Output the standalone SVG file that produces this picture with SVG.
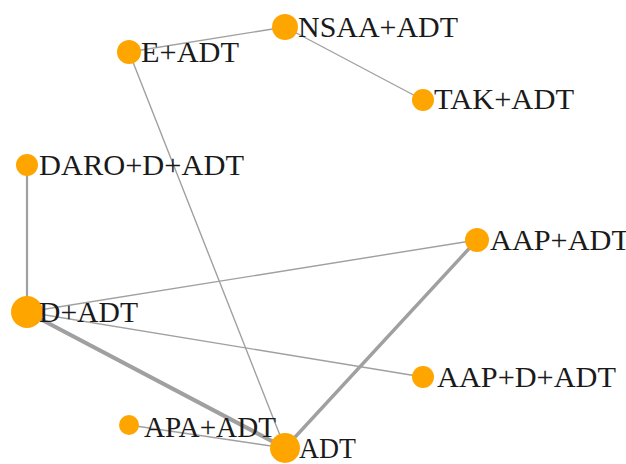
<svg xmlns="http://www.w3.org/2000/svg" width="626" height="464" viewBox="0 0 626 464">
<style>
.e{stroke:#a0a0a0;fill:none;stroke-linecap:round}
.t1{stroke-width:1.4}
.n circle{fill:#FFA500}
.n text{font-family:"Liberation Serif","Times New Roman",serif;font-size:29px;fill:#1a1a1a}
</style>
<rect width="626" height="464" fill="#ffffff"/>
<g id="connectors">
<line class="e t1" x1="129" y1="52" x2="285" y2="27"/>
<line class="e t1" x1="285" y1="27" x2="423" y2="100"/>
<line class="e t1" x1="129" y1="52" x2="285" y2="448"/>
<line class="e" stroke-width="2.2" x1="27" y1="165" x2="27" y2="312"/>
<line class="e t1" x1="27" y1="312" x2="477" y2="240"/>
<line class="e t1" x1="27" y1="312" x2="423" y2="377"/>
<line class="e" stroke-width="4.2" x1="27" y1="312" x2="285" y2="448"/>
<line class="e" stroke-width="3.4" x1="477" y1="240" x2="285" y2="448"/>
<line class="e t1" x1="129" y1="425" x2="285" y2="448"/>
</g>
<g id="node-E-ADT" class="n"><circle cx="129" cy="52" r="12"/><text x="141" y="62" textLength="98" lengthAdjust="spacingAndGlyphs">E+ADT</text></g>
<g id="node-NSAA-ADT" class="n"><circle cx="285" cy="27" r="13"/><text x="298" y="37" textLength="160" lengthAdjust="spacingAndGlyphs">NSAA+ADT</text></g>
<g id="node-TAK-ADT" class="n"><circle cx="423" cy="100" r="11"/><text x="434" y="109" textLength="140" lengthAdjust="spacingAndGlyphs">TAK+ADT</text></g>
<g id="node-DARO-D-ADT" class="n"><circle cx="27" cy="165" r="11"/><text x="39" y="175" textLength="205" lengthAdjust="spacingAndGlyphs">DARO+D+ADT</text></g>
<g id="node-D-ADT" class="n"><circle cx="27" cy="312" r="16"/><text x="39" y="322" textLength="99" lengthAdjust="spacingAndGlyphs">D+ADT</text></g>
<g id="node-AAP-ADT" class="n"><circle cx="477" cy="240" r="12"/><text x="490" y="250" textLength="140" lengthAdjust="spacingAndGlyphs">AAP+ADT</text></g>
<g id="node-AAP-D-ADT" class="n"><circle cx="423" cy="377" r="11"/><text x="437" y="387" textLength="179" lengthAdjust="spacingAndGlyphs">AAP+D+ADT</text></g>
<g id="node-APA-ADT" class="n"><circle cx="129" cy="425" r="10"/><text x="144" y="437" textLength="132" lengthAdjust="spacingAndGlyphs">APA+ADT</text></g>
<g id="node-ADT" class="n"><circle cx="285" cy="448" r="15"/><text x="299" y="458" textLength="57" lengthAdjust="spacingAndGlyphs">ADT</text></g>
</svg>
